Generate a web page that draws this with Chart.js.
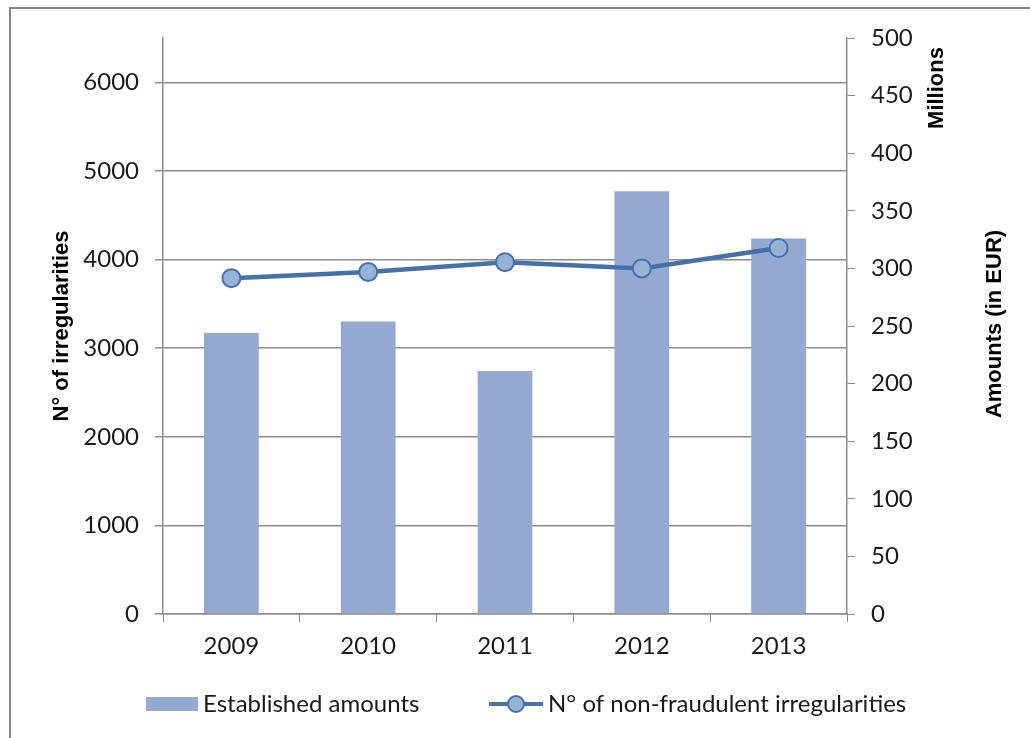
<!DOCTYPE html>
<html>
<head>
<meta charset="utf-8">
<script src="https://cdn.jsdelivr.net/npm/chart.js@4"></script>
<style>
  body { margin: 0; background: #fff; }
  #wrap { width: 1030px; height: 738px; }
</style>
</head>
<body>
<div id="wrap"><canvas id="irregChart" width="1030" height="738"></canvas></div>
<script>
const years = ['2009', '2010', '2011', '2012', '2013'];
// established amounts, millions EUR (right axis)
const amounts = [244, 254, 211, 367, 326];
// number of non-fraudulent irregularities (left axis)
const irregularities = [3790, 3860, 3970, 3900, 4130];
const leftTicks = [0, 1000, 2000, 3000, 4000, 5000, 6000];

const barColor = '#94A9D1';
const lineColor = '#4471AA';
const pointFill = '#95B3D7';
const gridColor = '#8c8c8c';
const tickFont = { family: 'Lato', size: 24 };

const frameAndTitles = {
  id: 'frameAndTitles',
  beforeDraw(chart) {
    const c = chart.ctx;
    c.save();
    c.fillStyle = '#fff';
    c.fillRect(0, 0, chart.width, chart.height);
    c.strokeStyle = '#888';
    c.lineWidth = 2;
    c.strokeRect(10, 8, 1100, 800);
    c.restore();
  },
  afterDraw(chart) {
    const c = chart.ctx;
    c.save();
    c.fillStyle = '#000';
    c.font = 'bold 22px "Liberation Sans", Arial, sans-serif';
    c.textAlign = 'center';
    c.textBaseline = 'middle';
    const vtext = (txt, x, y) => {
      c.save();
      c.translate(x, y);
      c.rotate(-Math.PI / 2);
      c.fillText(txt, 0, 0);
      c.restore();
    };
    vtext('N° of irregularities', 62, 326);
    vtext('Amounts (in EUR)', 995, 324);
    vtext('Millions', 937, 88);

    // legend
    const ly = 704;
    c.fillStyle = barColor;
    c.fillRect(146, ly - 7, 52, 14);
    c.font = '24px Lato, sans-serif';
    c.textAlign = 'left';
    c.fillStyle = '#1a1a1a';
    c.fillText(chart.data.datasets[1].label, 203, ly);

    c.strokeStyle = lineColor;
    c.lineWidth = 4;
    c.beginPath();
    c.moveTo(489, ly);
    c.lineTo(543, ly);
    c.stroke();
    c.beginPath();
    c.arc(516, ly, 8, 0, Math.PI * 2);
    c.fillStyle = pointFill;
    c.fill();
    c.lineWidth = 2;
    c.stroke();
    c.fillStyle = '#1a1a1a';
    c.fillText(chart.data.datasets[0].label, 548, ly);
    c.restore();
  }
};

new Chart(document.getElementById('irregChart'), {
  data: {
    labels: years,
    datasets: [
      {
        type: 'line',
        label: 'N° of non-fraudulent irregularities',
        data: irregularities,
        yAxisID: 'yLeft',
        borderColor: lineColor,
        borderWidth: 4.5,
        pointRadius: 9,
        pointBackgroundColor: pointFill,
        pointBorderColor: lineColor,
        pointBorderWidth: 2,
        tension: 0,
        order: 0
      },
      {
        type: 'bar',
        label: 'Established amounts',
        data: amounts,
        yAxisID: 'yRight',
        backgroundColor: barColor,
        barPercentage: 0.4,
        categoryPercentage: 1.0,
        order: 1
      }
    ]
  },
  options: {
    responsive: false,
    animation: false,
    devicePixelRatio: 1,
    layout: { padding: { left: 0, right: 0, top: 38, bottom: 74 } },
    plugins: {
      legend: { display: false },
      tooltip: { enabled: false }
    },
    scales: {
      x: {
        offset: true,
        grid: { offset: true, drawOnChartArea: false, color: gridColor, tickLength: 8 },
        border: { color: gridColor, width: 1.5 },
        ticks: { font: tickFont, color: '#1a1a1a', padding: 10 },
        afterFit(s) { s.height = 50; }
      },
      yLeft: {
        position: 'left',
        min: 0,
        max: 6500,
        ticks: { font: tickFont, color: '#1a1a1a', padding: 16, callback: v => String(v) },
        afterBuildTicks(s) { s.ticks = leftTicks.map(v => ({ value: v })); },
        grid: { color: gridColor, lineWidth: 1.5, tickLength: 8 },
        border: { color: gridColor, width: 1.5 },
        afterFit(s) { s.width = 163; }
      },
      yRight: {
        position: 'right',
        min: 0,
        max: 500,
        ticks: { stepSize: 50, font: tickFont, color: '#1a1a1a', padding: 16 },
        grid: { drawOnChartArea: false, color: gridColor, tickLength: 8 },
        border: { color: gridColor, width: 1.5 },
        afterFit(s) { s.width = 183; }
      }
    }
  },
  plugins: [frameAndTitles]
});
</script>
</body>
</html>
